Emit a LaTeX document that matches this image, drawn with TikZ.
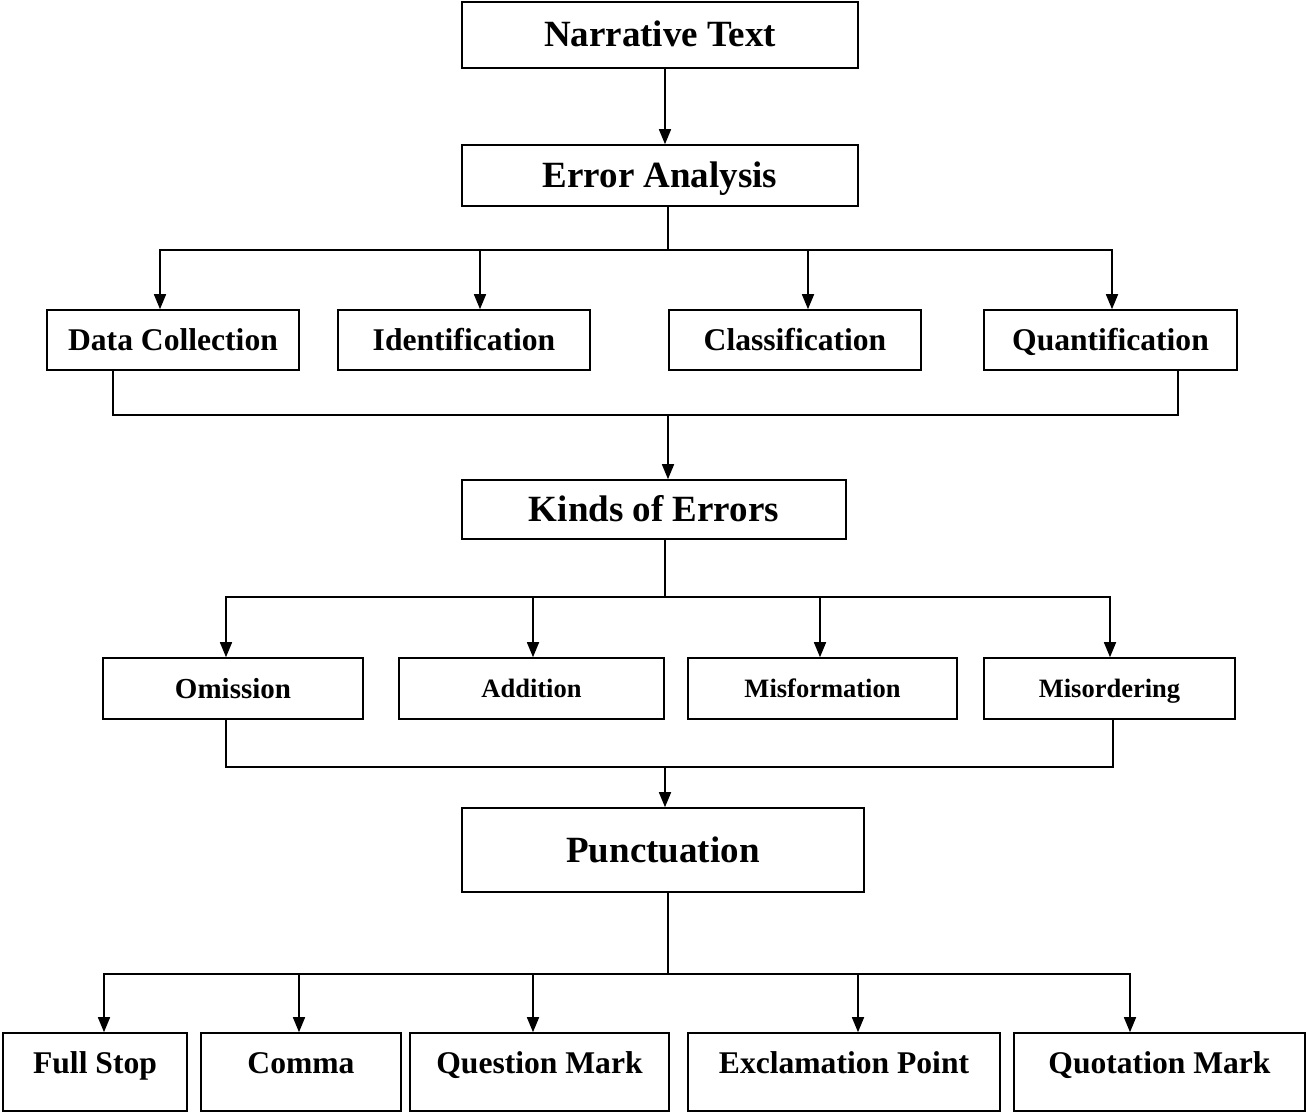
\documentclass[tikz,border=0pt]{standalone}
\usepackage{fontspec}
\setmainfont{Liberation Serif}
\usetikzlibrary{arrows.meta}
\begin{document}
\begin{tikzpicture}[x=1pt,y=-1pt,
  box/.style={draw, line width=1.6pt, inner sep=0pt, align=center, font=\bfseries},
  big/.style={box, font=\bfseries\fontsize{37}{40}\selectfont, text height=24pt, text depth=0pt},
  mid/.style={box, font=\bfseries\fontsize{31.6}{34}\selectfont, text height=21pt, text depth=0pt},
  small/.style={box, font=\bfseries\fontsize{26.5}{30}\selectfont, text height=17.5pt, text depth=0pt},
  low/.style={box, font=\bfseries\fontsize{31.6}{34}\selectfont, text height=40pt, text depth=38pt},
  line/.style={line width=1.6pt},
  arr/.style={line width=1.6pt, -{Triangle[length=15pt,width=12pt]}}]
\useasboundingbox (0,0) rectangle (1307,1113);
\fill[white] (0,0) rectangle (1307,1113);

% level 1
\node[big, minimum width=396pt, minimum height=66pt] (nt) at (660,35) {Narrative Text};
\node[big, minimum width=396pt, minimum height=61pt] (ea) at (660,175.5) {Error Analysis};

% level 2
\node[mid, minimum width=252pt, minimum height=60pt] (dc) at (173,340) {Data Collection};
\node[mid, minimum width=252pt, minimum height=60pt] (id) at (464,340) {Identification};
\node[mid, minimum width=252pt, minimum height=60pt] (cl) at (795,340) {Classification};
\node[mid, minimum width=253pt, minimum height=60pt] (qu) at (1110.5,340) {Quantification};

% level 3
\node[big, minimum width=384pt, minimum height=59pt] (ke) at (654,509.5) {Kinds of Errors};

% level 4
\node[small, font=\bfseries\fontsize{29}{32}\selectfont, text height=19pt, minimum width=260pt, minimum height=61pt] (om) at (233,688.5) {Omission};
\node[small, minimum width=265pt, minimum height=61pt] (ad) at (531.5,688.5) {Addition};
\node[small, minimum width=269pt, minimum height=61pt] (mf) at (822.5,688.5) {Misformation};
\node[small, minimum width=251pt, minimum height=61pt] (mo) at (1109.5,688.5) {Misordering};

% level 5
\node[big, minimum width=402pt, minimum height=84pt] (pu) at (663,850) {Punctuation};

% level 6
\node[low, minimum width=184pt, minimum height=78pt] (fs) at (95,1072) {Full Stop};
\node[low, minimum width=200pt, minimum height=78pt] (co) at (301,1072) {Comma};
\node[low, minimum width=259pt, minimum height=78pt] (qm) at (539.5,1072) {Question Mark};
\node[low, minimum width=312pt, minimum height=78pt] (ep) at (844,1072) {Exclamation Point};
\node[low, minimum width=291pt, minimum height=78pt] (qo) at (1159.5,1072) {Quotation Mark};

% connectors
\draw[arr] ([xshift=5pt]nt.south) -- ([xshift=5pt]ea.north);

\coordinate (s1) at (668,250);
\coordinate (a1) at (160,250);
\coordinate (a2) at (480,250);
\coordinate (a3) at (808,250);
\coordinate (a4) at (1112,250);
\draw[line] (s1 |- ea.south) -- (s1);
\draw[arr] (s1) -| (a1 |- dc.north);
\draw[arr] (s1) -| (a4 |- qu.north);
\draw[arr] (a2) -- (a2 |- id.north);
\draw[arr] (a3) -- (a3 |- cl.north);

\coordinate (j1) at (113,415);
\coordinate (j2) at (1178,415);
\coordinate (j3) at (668,415);
\draw[line] (j1 |- dc.south) -- (j1) -- (j2) -- (j2 |- qu.south);
\draw[arr] (j3) -- (j3 |- ke.north);

\coordinate (s2) at (665,597);
\coordinate (b1) at (226,597);
\coordinate (b2) at (533,597);
\coordinate (b3) at (820,597);
\coordinate (b4) at (1110,597);
\draw[line] (s2 |- ke.south) -- (s2);
\draw[arr] (s2) -| (b1 |- om.north);
\draw[arr] (s2) -| (b4 |- mo.north);
\draw[arr] (b2) -- (b2 |- ad.north);
\draw[arr] (b3) -- (b3 |- mf.north);

\coordinate (k1) at (226,767);
\coordinate (k2) at (1113,767);
\coordinate (k3) at (665,767);
\draw[line] (k1 |- om.south) -- (k1) -- (k2) -- (k2 |- mo.south);
\draw[arr] (k3) -- (k3 |- pu.north);

\coordinate (s3) at (668,974);
\coordinate (c1) at (104,974);
\coordinate (c2) at (299,974);
\coordinate (c3) at (533,974);
\coordinate (c4) at (858,974);
\coordinate (c5) at (1130,974);
\draw[line] (s3 |- pu.south) -- (s3);
\draw[arr] (s3) -| (c1 |- fs.north);
\draw[arr] (s3) -| (c5 |- qo.north);
\draw[arr] (c2) -- (c2 |- co.north);
\draw[arr] (c3) -- (c3 |- qm.north);
\draw[arr] (c4) -- (c4 |- ep.north);
\end{tikzpicture}
\end{document}
